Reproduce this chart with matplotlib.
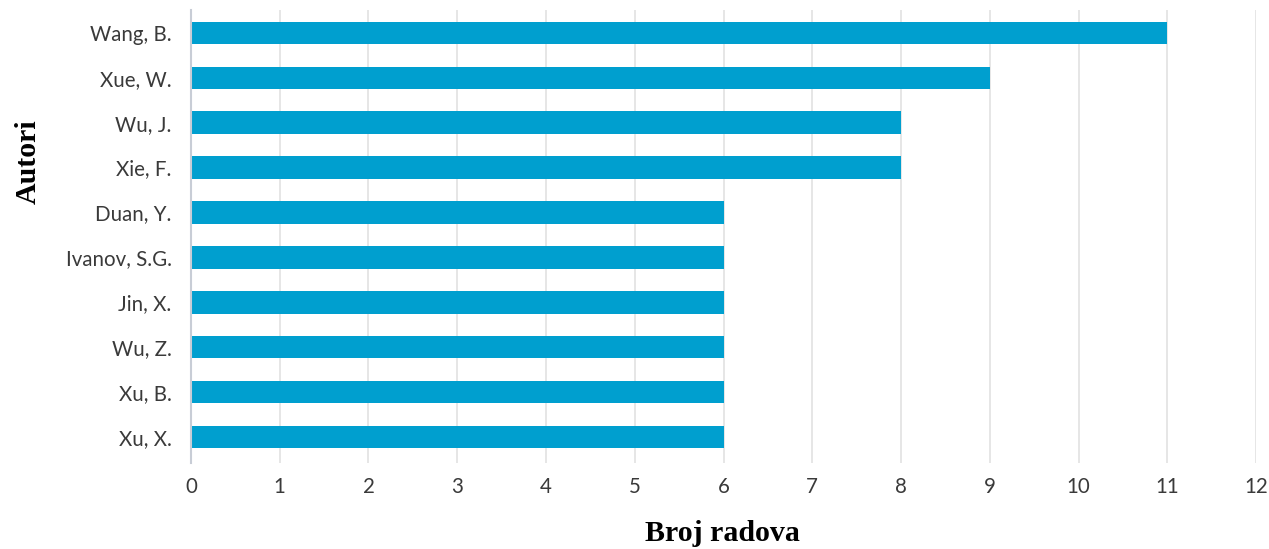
import matplotlib.pyplot as plt

# Authors and number of papers
autori = ['Wang, B.', 'Xue, W.', 'Wu, J.', 'Xie, F.', 'Duan, Y.',
          'Ivanov, S.G.', 'Jin, X.', 'Wu, Z.', 'Xu, B.', 'Xu, X.']
broj_radova = [11, 9, 8, 8, 6, 6, 6, 6, 6, 6]
x_ticks = list(range(0, 13))

fig = plt.figure(figsize=(12.69, 5.49), dpi=100)
ax = fig.add_axes([0.1505, 0.1566, 0.8393, 0.8252])

pos = list(range(len(autori)))
ax.barh(pos, broj_radova, height=0.5, color='#009fcf', zorder=3)

ax.set_ylim(len(autori) - 0.42, -0.51)
ax.set_xlim(0, 12)
ax.set_xticks(x_ticks)
ax.set_yticks(pos)
ax.set_yticklabels(autori)

ax.grid(axis='x', color='#e2e2e2', linewidth=1.2, zorder=0)
for s in ['top', 'right', 'bottom']:
    ax.spines[s].set_visible(False)
ax.spines['left'].set_color('#c8cdd6')
ax.spines['left'].set_linewidth(1.5)
ax.spines['left'].set_zorder(4)

ax.tick_params(axis='both', length=0, labelsize=14.8, labelcolor='#3a3a3a')
ax.tick_params(axis='y', pad=14)
ax.tick_params(axis='x', pad=10)
for lbl in ax.get_xticklabels() + ax.get_yticklabels():
    lbl.set_fontfamily('Lato')

fig.text(0.569, 0.004, 'Broj radova', ha='center', va='bottom',
         fontsize=21.5, fontweight='bold', family='Liberation Serif')
fig.text(0.022, 0.705, 'Autori', ha='center', va='center', rotation=90,
         fontsize=21.5, fontweight='bold', family='Liberation Serif')

fig.savefig('out.png', dpi=100)
